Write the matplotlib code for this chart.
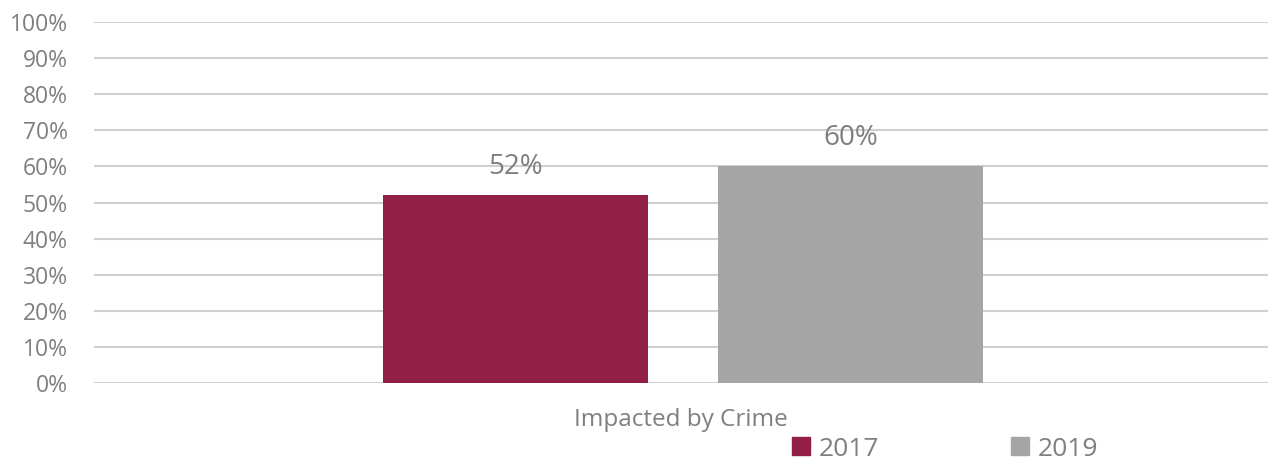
import matplotlib.pyplot as plt
from matplotlib.patches import Patch

categories = ['Impacted by Crime']
years = ['2017', '2019']
values = [52, 60]
colors = ['#921F46', '#A5A5A5']

plt.rcParams['font.family'] = ['Open Sans', 'DejaVu Sans']
text_color = '#7F7F7F'

fig = plt.figure(figsize=(12.71, 4.63), dpi=100)
ax = fig.add_axes([94 / 1271, 80 / 463, 1174 / 1271, 361 / 463])

width = 0.2257
offsets = [-0.1408, 0.1442]
for year, val, col, off in zip(years, values, colors, offsets):
    ax.bar(off, val, width=width, color=col, zorder=3, label=year)
    ax.text(off, val + 4, f'{val}%', ha='center', va='bottom',
            fontsize=20, color=text_color)

ax.set_xlim(-0.5, 0.5)
ax.set_ylim(0, 100)
ax.set_yticks(range(0, 101, 10))
ax.set_yticklabels([f'{t}%' for t in range(0, 101, 10)], fontsize=16.5, color=text_color)
ax.set_xticks([0])
ax.set_xticklabels(categories, fontsize=17.5, color=text_color)
ax.tick_params(axis='both', length=0)
ax.tick_params(axis='y', pad=19)
ax.tick_params(axis='x', pad=18)
ax.grid(axis='y', color='#D0D0D0', linewidth=1.5, zorder=0)
for s in ax.spines.values():
    s.set_visible(False)

handles = [Patch(color=c) for c in colors]
fig.legend(handles, years, loc='center', bbox_to_anchor=(945 / 1271, 1 - 449 / 463),
           ncol=2, frameon=False, fontsize=19, labelcolor=text_color,
           handlelength=0.68, handleheight=0.68, handletextpad=0.32,
           columnspacing=5.0)

fig.savefig('out.png', dpi=100)
